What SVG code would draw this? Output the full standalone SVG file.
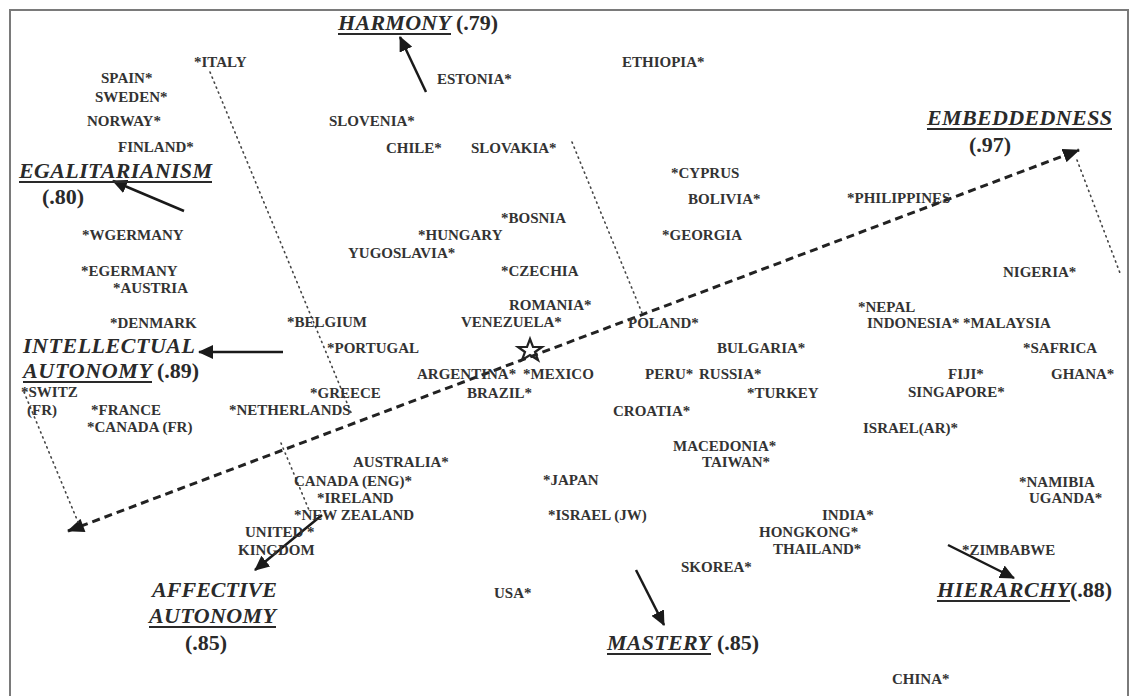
<svg xmlns="http://www.w3.org/2000/svg" width="1132" height="696" viewBox="0 0 1132 696">
<style>
.c{font-family:"Liberation Serif","Times New Roman",serif;font-weight:bold;font-size:15px;fill:#333}
.v{font-family:"Liberation Serif","Times New Roman",serif;font-weight:bold;font-style:italic;font-size:22px;fill:#2a2a2a}
.n{font-family:"Liberation Serif","Times New Roman",serif;font-weight:bold;font-size:22px;fill:#2a2a2a}
.ul{stroke:#2a2a2a;stroke-width:2}
.ar{stroke:#1a1a1a;stroke-width:2.5;fill:none;marker-end:url(#ah)}
.dot{stroke:#444;stroke-width:1.6;fill:none;stroke-dasharray:1.2 4.2;stroke-linecap:round}
.dash{stroke:#222;stroke-width:3;fill:none;stroke-dasharray:8 5;marker-start:url(#dhs);marker-end:url(#dh)}
</style>
<defs>
<marker id="ah" markerUnits="userSpaceOnUse" markerWidth="16" markerHeight="14" refX="14" refY="7" orient="auto"><path d="M0,0 L15,7 L0,14 Z" fill="#1a1a1a"/></marker>
<marker id="dh" markerUnits="userSpaceOnUse" markerWidth="18" markerHeight="14" refX="16" refY="7" orient="auto"><path d="M0,0 L17,7 L0,14 Z" fill="#1a1a1a"/></marker>
<marker id="dhs" markerUnits="userSpaceOnUse" markerWidth="18" markerHeight="14" refX="1" refY="7" orient="auto"><path d="M17,0 L0,7 L17,14 Z" fill="#1a1a1a"/></marker>
</defs>
<rect width="1132" height="696" fill="#fff"/>
<rect x="10" y="10" width="1118" height="700" fill="none" stroke="#7a7a7a" stroke-width="2"/>

<g id="connectors">
<line class="dash" x1="68" y1="531" x2="1079" y2="150"/>
<line class="dot" x1="210" y1="72" x2="352" y2="415"/>
<line class="dot" x1="572" y1="142" x2="642" y2="313"/>
<line class="dot" x1="1077" y1="160" x2="1120" y2="273"/>
<line class="dot" x1="24" y1="392" x2="78" y2="522"/>
<line class="dot" x1="281" y1="443" x2="309" y2="510"/>
<line class="ar" x1="426" y1="92" x2="400" y2="37"/>
<line class="ar" x1="184" y1="211" x2="113" y2="181"/>
<line class="ar" x1="283" y1="352" x2="199" y2="352"/>
<line class="ar" x1="322" y1="515" x2="255" y2="570"/>
<line class="ar" x1="636" y1="570" x2="664" y2="625"/>
<line class="ar" x1="948" y1="545" x2="1014" y2="578"/>
</g>

<g id="centroid">
<path d="M530,339 L533,347 L542,347 L535,352 L538,360 L530,355 L522,360 L525,352 L518,347 L527,347 Z" fill="none" stroke="#222" stroke-width="2.2"/>
</g>

<g id="value-harmony">
<text class="v" x="338" y="30" textLength="113">HARMONY</text>
<line class="ul" x1="338" y1="34" x2="451" y2="34"/>
<text class="n" x="456" y="30">(.79)</text>
</g>
<g id="value-egalitarianism">
<text class="v" x="19" y="178" textLength="193">EGALITARIANISM</text>
<line class="ul" x1="19" y1="182" x2="212" y2="182"/>
<text class="n" x="42" y="204">(.80)</text>
</g>
<g id="value-embeddedness">
<text class="v" x="927" y="125" textLength="185">EMBEDDEDNESS</text>
<line class="ul" x1="927" y1="129" x2="1112" y2="129"/>
<text class="n" x="969" y="152">(.97)</text>
</g>
<g id="value-intellectual-autonomy">
<text class="v" x="23" y="353" textLength="172">INTELLECTUAL</text>
<text class="v" x="23" y="378" textLength="129">AUTONOMY</text>
<line class="ul" x1="23" y1="382" x2="152" y2="382"/>
<text class="n" x="157" y="378">(.89)</text>
</g>
<g id="value-affective-autonomy">
<text class="v" x="152" y="597" textLength="125">AFFECTIVE</text>
<text class="v" x="149" y="623" textLength="127">AUTONOMY</text>
<line class="ul" x1="149" y1="627" x2="276" y2="627"/>
<text class="n" x="185" y="650">(.85)</text>
</g>
<g id="value-mastery">
<text class="v" x="607" y="650" textLength="104">MASTERY</text>
<line class="ul" x1="607" y1="654" x2="711" y2="654"/>
<text class="n" x="717" y="650">(.85)</text>
</g>
<g id="value-hierarchy">
<text class="v" x="937" y="597" textLength="133">HIERARCHY</text>
<line class="ul" x1="937" y1="601" x2="1070" y2="601"/>
<text class="n" x="1070" y="597">(.88)</text>
</g>

<g id="countries">
<text class="c" x="194" y="67">*ITALY</text>
<text class="c" x="101" y="83">SPAIN*</text>
<text class="c" x="95" y="102">SWEDEN*</text>
<text class="c" x="87" y="126">NORWAY*</text>
<text class="c" x="118" y="152">FINLAND*</text>
<text class="c" x="82" y="240">*WGERMANY</text>
<text class="c" x="81" y="276">*EGERMANY</text>
<text class="c" x="113" y="293">*AUSTRIA</text>
<text class="c" x="110" y="328">*DENMARK</text>
<text class="c" x="21" y="397">*SWITZ</text>
<text class="c" x="27" y="415">(FR)</text>
<text class="c" x="91" y="415">*FRANCE</text>
<text class="c" x="87" y="432">*CANADA (FR)</text>
<text class="c" x="229" y="415">*NETHERLANDS</text>
<text class="c" x="437" y="84">ESTONIA*</text>
<text class="c" x="622" y="67">ETHIOPIA*</text>
<text class="c" x="329" y="126">SLOVENIA*</text>
<text class="c" x="386" y="153">CHILE*</text>
<text class="c" x="471" y="153">SLOVAKIA*</text>
<text class="c" x="671" y="178">*CYPRUS</text>
<text class="c" x="688" y="204">BOLIVIA*</text>
<text class="c" x="847" y="203">*PHILIPPINES</text>
<text class="c" x="501" y="223">*BOSNIA</text>
<text class="c" x="418" y="240">*HUNGARY</text>
<text class="c" x="662" y="240">*GEORGIA</text>
<text class="c" x="348" y="258">YUGOSLAVIA*</text>
<text class="c" x="501" y="276">*CZECHIA</text>
<text class="c" x="1003" y="277">NIGERIA*</text>
<text class="c" x="509" y="310">ROMANIA*</text>
<text class="c" x="858" y="312">*NEPAL</text>
<text class="c" x="287" y="327">*BELGIUM</text>
<text class="c" x="461" y="327">VENEZUELA*</text>
<text class="c" x="628" y="328">POLAND*</text>
<text class="c" x="867" y="328">INDONESIA*</text>
<text class="c" x="963" y="328">*MALAYSIA</text>
<text class="c" x="327" y="353">*PORTUGAL</text>
<text class="c" x="717" y="353">BULGARIA*</text>
<text class="c" x="1023" y="353">*SAFRICA</text>
<text class="c" x="417" y="379">ARGENTINA*</text>
<text class="c" x="523" y="379">*MEXICO</text>
<text class="c" x="645" y="379">PERU*</text>
<text class="c" x="699" y="379">RUSSIA*</text>
<text class="c" x="948" y="379">FIJI*</text>
<text class="c" x="1051" y="379">GHANA*</text>
<text class="c" x="310" y="398">*GREECE</text>
<text class="c" x="467" y="398">BRAZIL*</text>
<text class="c" x="747" y="398">*TURKEY</text>
<text class="c" x="908" y="397">SINGAPORE*</text>
<text class="c" x="613" y="416">CROATIA*</text>
<text class="c" x="863" y="433">ISRAEL(AR)*</text>
<text class="c" x="673" y="451">MACEDONIA*</text>
<text class="c" x="353" y="467">AUSTRALIA*</text>
<text class="c" x="702" y="467">TAIWAN*</text>
<text class="c" x="294" y="486">CANADA (ENG)*</text>
<text class="c" x="543" y="485">*JAPAN</text>
<text class="c" x="1019" y="487">*NAMIBIA</text>
<text class="c" x="317" y="503">*IRELAND</text>
<text class="c" x="1029" y="503">UGANDA*</text>
<text class="c" x="294" y="520">*NEW ZEALAND</text>
<text class="c" x="548" y="520">*ISRAEL (JW)</text>
<text class="c" x="822" y="520">INDIA*</text>
<text class="c" x="245" y="537">UNITED *</text>
<text class="c" x="759" y="537">HONGKONG*</text>
<text class="c" x="238" y="555">KINGDOM</text>
<text class="c" x="773" y="554">THAILAND*</text>
<text class="c" x="962" y="555">*ZIMBABWE</text>
<text class="c" x="681" y="572">SKOREA*</text>
<text class="c" x="494" y="598">USA*</text>
<text class="c" x="892" y="684">CHINA*</text>
</g>
</svg>
